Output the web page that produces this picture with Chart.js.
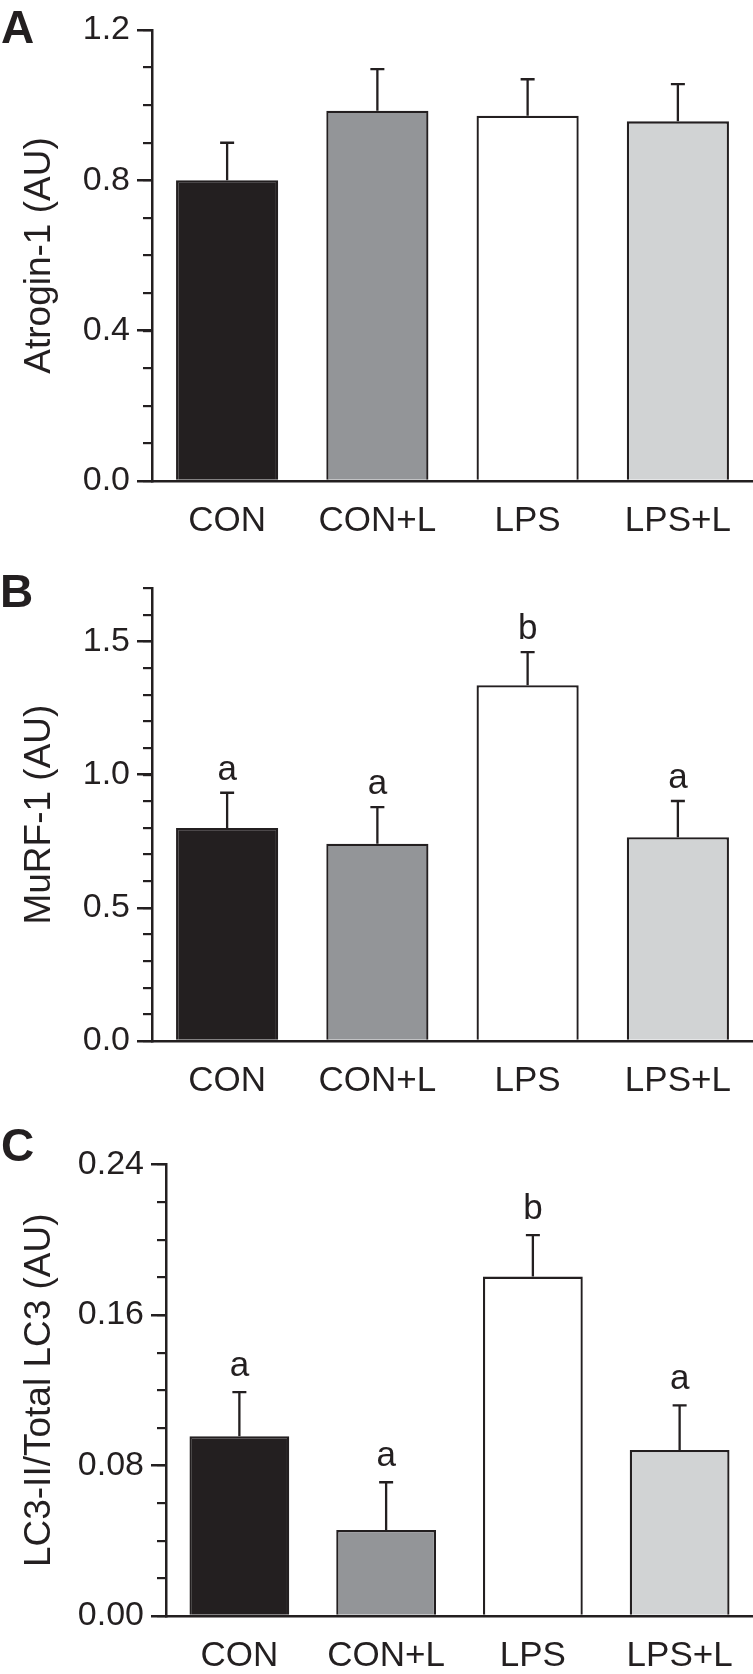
<!DOCTYPE html>
<html><head><meta charset="utf-8">
<script src="https://cdn.jsdelivr.net/npm/chart.js@4/dist/chart.umd.min.js"></script>
<style>
html,body{margin:0;padding:0;background:#fff;overflow:hidden;}
body{width:753px;height:1674px;position:relative;}
canvas{position:absolute;left:0;}
</style></head><body>
<canvas id="cA" width="753" height="540" style="top:0px"></canvas>
<canvas id="cB" width="753" height="555" style="top:545px"></canvas>
<canvas id="cC" width="753" height="574" style="top:1100px"></canvas>
<script>
// ---- data ----
const categories = ["CON", "CON+L", "LPS", "LPS+L"];

const atroginMean = [0.80, 0.985, 0.972, 0.957];
const atroginSE   = [0.10, 0.111, 0.097, 0.099];
const atroginLetters = ["", "", "", ""];
const atroginTicks = [0, 0.4, 0.8, 1.2];
const atroginTickLabels = ["0.0", "0.4", "0.8", "1.2"];

const murfMean = [0.80, 0.741, 1.336, 0.765];
const murfSE   = [0.132, 0.137, 0.124, 0.136];
const murfLetters = ["a", "a", "b", "a"];
const murfTicks = [0, 0.5, 1.0, 1.5];
const murfTickLabels = ["0.0", "0.5", "1.0", "1.5"];

const lc3Mean = [0.0956, 0.0457, 0.1804, 0.0883];
const lc3SE   = [0.0234, 0.0254, 0.0221, 0.0237];
const lc3Letters = ["a", "a", "b", "a"];
const lc3Ticks = [0, 0.08, 0.16, 0.24];
const lc3TickLabels = ["0.00", "0.08", "0.16", "0.24"];

// ---- style ----
const ink = "#231f20";
const barColors = ["#231f20", "#939598", "#ffffff", "#d1d3d4"];
const family = '"Liberation Sans", Arial, Helvetica, sans-serif';

function errPlugin(se, letters, gap, panel) {
  return {
    id: 'errbars',
    afterDatasetsDraw(chart) {
      const ctx = chart.ctx;
      const meta = chart.getDatasetMeta(0);
      const ys = chart.scales.y;
      const vals = chart.data.datasets[0].data;
      ctx.save();
      ctx.strokeStyle = ink;
      ctx.lineWidth = 2.3;
      meta.data.forEach((bar, i) => {
        const yTop = ys.getPixelForValue(vals[i] + se[i]);
        ctx.beginPath();
        ctx.moveTo(bar.x, bar.y);
        ctx.lineTo(bar.x, yTop);
        ctx.moveTo(bar.x - 7, yTop);
        ctx.lineTo(bar.x + 7, yTop);
        ctx.stroke();
        if (letters[i]) {
          ctx.fillStyle = ink;
          ctx.font = '35px ' + family;
          ctx.textAlign = 'center';
          ctx.textBaseline = 'alphabetic';
          ctx.fillText(letters[i], bar.x, yTop - gap);
        }
      });
      // panel letter
      ctx.fillStyle = ink;
      ctx.font = 'bold 46px ' + family;
      ctx.textAlign = 'left';
      ctx.textBaseline = 'alphabetic';
      ctx.fillText(panel.text, panel.x, panel.y);
      ctx.restore();
    }
  };
}

function makeChart(id, cfg) {
  return new Chart(document.getElementById(id), {
    type: 'bar',
    data: {
      labels: categories,
      datasets: [{
        data: cfg.mean,
        backgroundColor: barColors,
        borderColor: ink,
        borderWidth: 2.3,
        borderSkipped: 'start',
        barPercentage: 0.68,
        categoryPercentage: 1.0
      }]
    },
    options: {
      responsive: false,
      animation: false,
      devicePixelRatio: 1,
      layout: { padding: { top: cfg.padTop, right: 0, bottom: 0, left: 0 } },
      plugins: { legend: { display: false }, tooltip: { enabled: false } },
      scales: {
        x: {
          type: 'category',
          position: 'bottom',
          offset: true,
          grid: { display: false },
          border: { display: true, color: ink, width: 2.5 },
          ticks: { color: ink, font: { family: family, size: 35 }, padding: 11, maxRotation: 0, autoSkip: false },
          afterFit: s => { s.height = cfg.xh; }
        },
        y: {
          position: 'left',
          weight: 1,
          min: 0,
          max: cfg.max,
          afterBuildTicks: s => { s.ticks = cfg.ticks.map(v => ({ value: v })); },
          ticks: { callback: (v, i) => cfg.tickLabels[i], color: ink, font: { family: family, size: 34 }, padding: 7 },
          grid: { drawOnChartArea: false, drawTicks: true, tickLength: 15, color: ink, lineWidth: 2.5 },
          border: { display: true, color: ink, width: 2.5 },
          title: { display: true, text: cfg.title, color: ink, font: { family: family, size: 37 }, padding: { top: 18, bottom: 0 } },
          afterFit: s => { s.width = cfg.axisX; }
        },
        yMinor: {
          position: 'left',
          weight: 0,
          min: 0,
          max: cfg.max,
          ticks: { display: false, stepSize: cfg.minorStep },
          grid: { drawOnChartArea: false, drawTicks: true, tickLength: 9, color: ink, lineWidth: 2.2 },
          border: { display: false },
          afterFit: s => { s.width = 0; }
        }
      }
    },
    plugins: [errPlugin(cfg.se, cfg.letters, cfg.gap, cfg.panel)]
  });
}

makeChart('cA', { mean: atroginMean, se: atroginSE, letters: atroginLetters, gap: 13,
  max: 1.2, ticks: atroginTicks, tickLabels: atroginTickLabels, minorStep: 0.1,
  title: 'Atrogin-1 (AU)', padTop: 30, xh: 59, axisX: 152, panel: { text: 'A', x: 1, y: 43 } });
makeChart('cB', { mean: murfMean, se: murfSE, letters: murfLetters, gap: 13,
  max: 1.7, ticks: murfTicks, tickLabels: murfTickLabels, minorStep: 0.1,
  title: 'MuRF-1 (AU)', padTop: 43.2, xh: 59, axisX: 152, panel: { text: 'B', x: 0, y: 61.5 } });
makeChart('cC', { mean: lc3Mean, se: lc3SE, letters: lc3Letters, gap: 16,
  max: 0.24, ticks: lc3Ticks, tickLabels: lc3TickLabels, minorStep: 0.02,
  title: 'LC3-II/Total LC3 (AU)', padTop: 64.5, xh: 58, axisX: 166, panel: { text: 'C', x: 1, y: 61 } });
</script>
</body></html>
